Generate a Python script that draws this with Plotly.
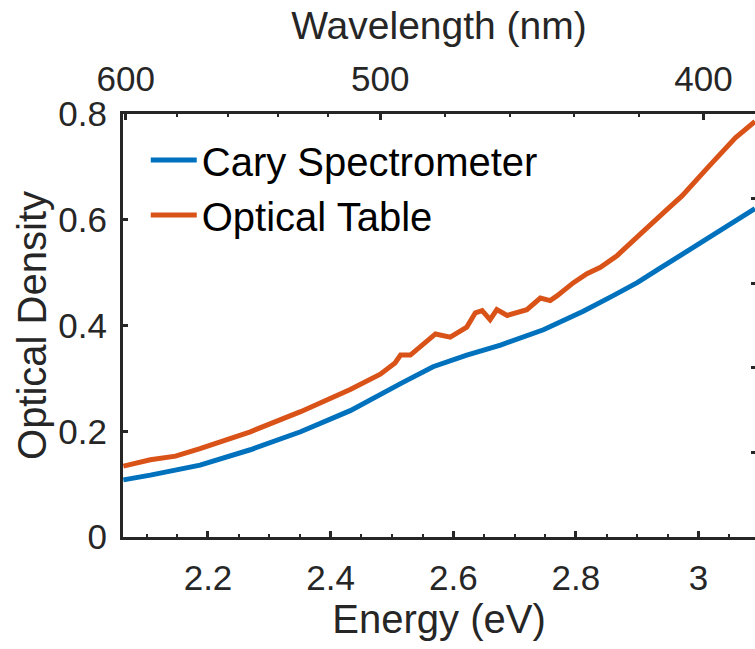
import plotly.graph_objects as go

# ---- data ----
cary_energy = [2.062, 2.106, 2.187, 2.269, 2.351, 2.432, 2.514, 2.567, 2.622, 2.677,
               2.747, 2.812, 2.860, 2.900, 2.934, 2.989, 3.044, 3.092]
cary_od = [0.108, 0.117, 0.136, 0.165, 0.199, 0.239, 0.290, 0.322, 0.344, 0.363,
           0.392, 0.427, 0.456, 0.481, 0.506, 0.546, 0.585, 0.621]

table_energy = [2.062, 2.106, 2.147, 2.187, 2.269, 2.351, 2.432, 2.481, 2.505, 2.514,
                2.530, 2.551, 2.571, 2.595, 2.622, 2.636, 2.647, 2.660, 2.671, 2.688,
                2.714, 2.720, 2.742, 2.758, 2.769, 2.796, 2.818, 2.840, 2.867, 2.881,
                2.908, 2.951, 2.973, 3.016, 3.060, 3.092]
table_od = [0.134, 0.146, 0.153, 0.167, 0.199, 0.237, 0.279, 0.308, 0.329, 0.344,
            0.344, 0.363, 0.384, 0.378, 0.397, 0.424, 0.428, 0.411, 0.430, 0.419,
            0.427, 0.430, 0.452, 0.447, 0.456, 0.481, 0.498, 0.510, 0.532, 0.546,
            0.576, 0.622, 0.645, 0.700, 0.755, 0.786]

series_names = ["Cary Spectrometer", "Optical Table"]
series_colors = ["#0072BD", "#D95319"]

energy_range = [2.0614, 3.092]
od_range = [0, 0.8]
energy_ticks = [2.2, 2.4, 2.6, 2.8, 3.0]
energy_ticktext = ["2.2", "2.4", "2.6", "2.8", "3"]
od_ticks = [0, 0.2, 0.4, 0.6, 0.8]
od_ticktext = ["0", "0.2", "0.4", "0.6", "0.8"]

# top (wavelength) axis: labels and their positions on the energy scale
wl_labels = ["600", "500", "400"]
wl_tick_energy = [2.066, 2.481, 3.008]
wl_minor_energy = [2.150, 2.232, 2.314, 2.396, 2.586, 2.692, 2.797, 2.903]

# right axis (second axes) ticks, unlabeled
right_ticks = [0.2, 0.4, 0.6, 0.8]

FONT = "Liberation Sans, Arial, Helvetica, sans-serif"
INK = "#262626"

fig = go.Figure()
for e, od, name, col in zip([cary_energy, table_energy], [cary_od, table_od],
                            series_names, series_colors):
    fig.add_trace(go.Scatter(x=e, y=od, mode="lines", name=name,
                             legendgroup=name,
                             line=dict(color=col, width=5)))

# invisible trace to activate the top/right axes
fig.add_trace(go.Scatter(x=[None], y=[None], xaxis="x2", yaxis="y2",
                         showlegend=False, hoverinfo="skip"))

axis_common = dict(showline=True, linecolor=INK, linewidth=3, ticks="inside",
                   tickcolor=INK, tickwidth=2.5, showgrid=False, zeroline=False,
                   tickfont=dict(family=FONT, size=35, color=INK))

fig.update_layout(
    width=755, height=649,
    margin=dict(l=123, r=0, t=114, b=112),
    paper_bgcolor="white", plot_bgcolor="white",
    font=dict(family=FONT, color=INK),
    xaxis=dict(range=energy_range, tickvals=energy_ticks, ticktext=energy_ticktext,
               ticklen=6, ticklabelstandoff=8,
               minor=dict(tickmode="linear", tick0=2.0, dtick=0.05, ticks="inside",
                          ticklen=3, tickwidth=2, tickcolor=INK),
               title=dict(text="Energy (eV)", font=dict(family=FONT, size=40, color=INK),
                          standoff=4),
               **axis_common),
    yaxis=dict(range=od_range, tickvals=od_ticks, ticktext=od_ticktext,
               ticklen=5, ticklabelstandoff=6,
               title=dict(text="Optical Density", font=dict(family=FONT, size=40, color=INK),
                          standoff=0),
               **axis_common),
    xaxis2=dict(range=energy_range, overlaying="x", side="top", anchor="y2",
                tickvals=wl_tick_energy, ticktext=wl_labels, ticklen=6,
                ticklabelstandoff=6,
                minor=dict(tickmode="array", tickvals=wl_minor_energy, ticks="inside",
                           ticklen=3, tickwidth=2, tickcolor=INK),
                title=dict(text="Wavelength (nm)", font=dict(family=FONT, size=39, color=INK),
                           standoff=8),
                **axis_common),
    yaxis2=dict(range=[0, 1], overlaying="y", side="right", anchor="x2",
                tickvals=right_ticks, showticklabels=False, ticks="inside",
                ticklen=4, tickwidth=2.5, tickcolor=INK, showline=False,
                showgrid=False, zeroline=False),
    legend=dict(x=0.036, y=0.968, xanchor="left", yanchor="top",
                bgcolor="rgba(0,0,0,0)", borderwidth=0, tracegroupgap=0,
                itemwidth=46,
                font=dict(family=FONT, size=40, color="#000000")),
    showlegend=True,
)

fig.write_html("out.html")
